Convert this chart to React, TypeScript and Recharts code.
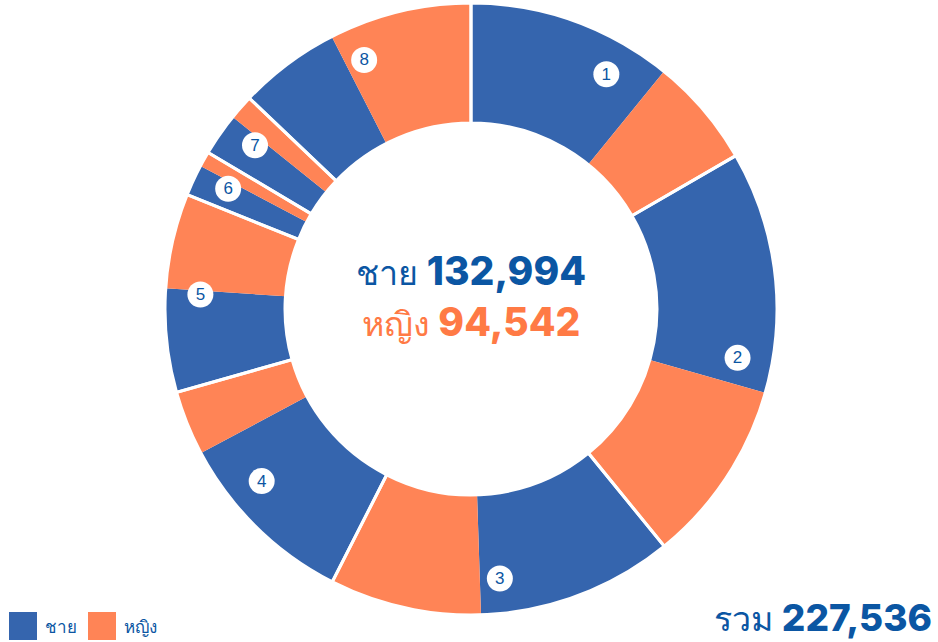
import React from 'react';
import { PieChart, Pie, Cell } from 'recharts';

const groups = ['1', '2', '3', '4', '5', '6', '7', '8'];
const maleValues = [24700, 29067, 23575, 22109, 12458, 3729, 5120, 12236];
const femaleValues = [13178, 22065, 18215, 7755, 11408, 1833, 2971, 17117];
const seriesNames = ['ชาย', 'หญิง'];
const totalLabel = 'รวม';

const BLUE = '#3565ae';
const ORANGE = '#ff8456';
const TEXT_BLUE = '#0b56a3';
const TEXT_ORANGE = '#ff7a45';
const RAD = Math.PI / 180;

const sliceData = groups.flatMap((g, i) => [
  { name: `${g} ${seriesNames[0]}`, value: maleValues[i], fill: BLUE },
  { name: `${g} ${seriesNames[1]}`, value: femaleValues[i], fill: ORANGE },
]);
const groupData = groups.map((g, i) => ({ name: g, value: maleValues[i] + femaleValues[i] }));

const maleTotal = maleValues.reduce((a, b) => a + b, 0);
const femaleTotal = femaleValues.reduce((a, b) => a + b, 0);
const fmt = (n: number) => n.toLocaleString('en-US');

const NUM_FONT = 'Inter, "Noto Sans", sans-serif';

const renderGroupLabel = (props: any) => {
  const { cx, cy, midAngle, outerRadius, index } = props;
  const r = outerRadius - 35;
  const x = cx + r * Math.cos(-midAngle * RAD);
  const y = cy + r * Math.sin(-midAngle * RAD);
  return (
    <g key={`lbl-${index}`}>
      <circle cx={x} cy={y} r={13} fill="#fff" />
      <text x={x} y={y + 1} textAnchor="middle" dominantBaseline="middle" fill={TEXT_BLUE}
        style={{ fontFamily: '"Liberation Sans", Arial, sans-serif', fontSize: 17 }}>
        {groups[index]}
      </text>
    </g>
  );
};

export default function App() {
  return (
    <div style={{ position: 'absolute', left: 0, top: 0, width: 938, height: 642, background: '#fff', fontFamily: '"Noto Sans", sans-serif' }}>
      <PieChart width={938} height={642} margin={{ top: 0, right: 0, bottom: 0, left: 0 }}>
        <Pie data={sliceData} dataKey="value" nameKey="name" cx={471} cy={309}
          innerRadius={186} outerRadius={306} startAngle={90} endAngle={-270}
          stroke="none" isAnimationActive={false}>
          {sliceData.map((d, i) => <Cell key={i} fill={d.fill} />)}
        </Pie>
        <Pie data={groupData} dataKey="value" nameKey="name" cx={471} cy={309}
          innerRadius={186} outerRadius={306} startAngle={90} endAngle={-270}
          fill="none" stroke="#fff" strokeWidth={3} isAnimationActive={false}
          label={renderGroupLabel} labelLine={false}>
          {groupData.map((d, i) => <Cell key={i} fill="none" />)}
        </Pie>
      </PieChart>

      <div style={{ position: 'absolute', left: 271, width: 400, top: 245, textAlign: 'center', whiteSpace: 'nowrap' }}>
        <div style={{ color: TEXT_BLUE, height: 51, lineHeight: '51px' }}>
          <span style={{ fontSize: 34, fontWeight: 500, lineHeight: '51px' }}>{seriesNames[0]} </span>
          <span style={{ fontSize: 39, fontWeight: 800, fontFamily: NUM_FONT, lineHeight: '51px' }}>{fmt(maleTotal)}</span>
        </div>
        <div style={{ color: TEXT_ORANGE, height: 51, lineHeight: '51px' }}>
          <span style={{ fontSize: 34, fontWeight: 500, lineHeight: '51px' }}>{seriesNames[1]} </span>
          <span style={{ fontSize: 39, fontWeight: 800, fontFamily: NUM_FONT, lineHeight: '51px' }}>{fmt(femaleTotal)}</span>
        </div>
      </div>

      <div style={{ position: 'absolute', right: 6, top: 593, color: TEXT_BLUE, whiteSpace: 'nowrap', height: 50, lineHeight: '50px' }}>
        <span style={{ fontSize: 34, fontWeight: 500, lineHeight: '50px' }}>{totalLabel} </span>
        <span style={{ fontSize: 37, fontWeight: 800, fontFamily: NUM_FONT, lineHeight: '50px' }}>{fmt(maleTotal + femaleTotal)}</span>
      </div>

      <div style={{ position: 'absolute', left: 9, top: 612, display: 'flex', alignItems: 'center' }}>
        {seriesNames.map((s, i) => (
          <div key={s} style={{ display: 'flex', alignItems: 'center', marginRight: 11 }}>
            <div style={{ width: 28, height: 28, background: i === 0 ? BLUE : ORANGE }} />
            <span style={{ marginLeft: 8, fontSize: 17, color: TEXT_BLUE }}>{s}</span>
          </div>
        ))}
      </div>
    </div>
  );
}
